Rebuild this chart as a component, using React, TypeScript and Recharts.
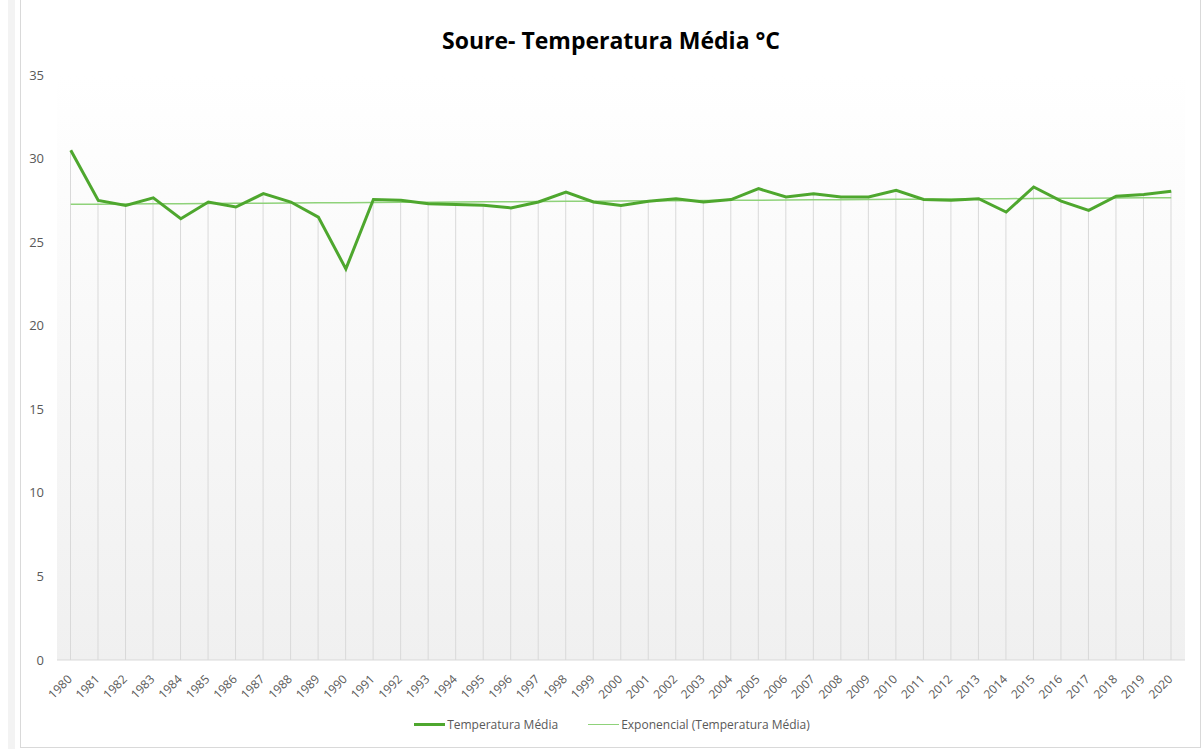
import React from "react";
import { ComposedChart, Line, Bar, XAxis, YAxis, Legend } from "recharts";

const years = [
  "1980", "1981", "1982", "1983", "1984", "1985", "1986", "1987", "1988", "1989",
  "1990", "1991", "1992", "1993", "1994", "1995", "1996", "1997", "1998", "1999",
  "2000", "2001", "2002", "2003", "2004", "2005", "2006", "2007", "2008", "2009",
  "2010", "2011", "2012", "2013", "2014", "2015", "2016", "2017", "2018", "2019",
  "2020",
];

const temperatura = [
  30.5, 27.5, 27.2, 27.65, 26.4, 27.4, 27.1, 27.9, 27.4, 26.5,
  23.4, 27.55, 27.5, 27.3, 27.25, 27.2, 27.05, 27.4, 28.0, 27.4,
  27.2, 27.45, 27.6, 27.4, 27.55, 28.2, 27.7, 27.9, 27.7, 27.7,
  28.1, 27.55, 27.5, 27.6, 26.8, 28.3, 27.45, 26.9, 27.75, 27.85,
  28.05,
];

// exponential trend line as drawn in the picture
const exponencial = [
  27.26, 27.27, 27.28, 27.29, 27.3, 27.31, 27.32, 27.33, 27.34, 27.35,
  27.36, 27.37, 27.38, 27.39, 27.4, 27.41, 27.42, 27.43, 27.44, 27.45,
  27.46, 27.47, 27.48, 27.49, 27.5, 27.51, 27.52, 27.53, 27.54, 27.55,
  27.56, 27.57, 27.58, 27.59, 27.6, 27.61, 27.62, 27.63, 27.64, 27.65,
  27.66,
];

const yTicks = [0, 5, 10, 15, 20, 25, 30, 35];

const data = years.map((year, i) => ({
  year,
  temperatura: temperatura[i],
  exponencial: exponencial[i],
}));

const FONT = "'Open Sans', 'Liberation Sans', sans-serif";
const MAIN = "#4ea72e";
const TREND = "#8fd27a";
const GREY = "#595959";

const YearTick = ({ x, y, payload }: any) => (
  <g transform={`translate(${x + 2}, ${y + 12})`}>
    <text transform="rotate(-45)" textAnchor="end" fontSize={12} fill={GREY} fontFamily={FONT}>
      {payload.value}
    </text>
  </g>
);

const LegendContent = () => (
  <div
    style={{
      display: "flex",
      justifyContent: "center",
      alignItems: "center",
      gap: 30,
      fontFamily: FONT,
      fontSize: 12,
      color: GREY,
      paddingLeft: 22,
    }}
  >
    <span style={{ display: "flex", alignItems: "center" }}>
      <span style={{ width: 31, height: 3, background: MAIN, display: "inline-block", marginRight: 2 }} />
      Temperatura Média
    </span>
    <span style={{ display: "flex", alignItems: "center" }}>
      <span style={{ width: 31, height: 1.5, background: TREND, display: "inline-block", marginRight: 2 }} />
      Exponencial (Temperatura Média)
    </span>
  </div>
);

export default function App() {
  return (
    <div
      style={{
        position: "absolute",
        left: 0,
        top: 0,
        width: 1202,
        height: 749,
        background: "#ffffff",
        overflow: "hidden",
      }}
    >
      <div style={{ position: "absolute", left: 8, top: 0, width: 7, height: 749, background: "#f3f3f3" }} />
      <div
        style={{
          position: "absolute",
          left: 20,
          top: 0,
          width: 1179,
          height: 747,
          borderLeft: "1px solid #d9d9d9",
          borderRight: "1px solid #d9d9d9",
          borderBottom: "1px solid #d9d9d9",
        }}
      />
      <div
        style={{
          position: "absolute",
          left: 57,
          top: 75,
          width: 1128,
          height: 585,
          background: "linear-gradient(#ffffff, #f0f0f0)",
        }}
      />
      <div
        style={{
          position: "absolute",
          left: 0,
          top: 24,
          width: 1222,
          textAlign: "center",
          fontFamily: FONT,
          fontWeight: 700,
          fontSize: 23,
          color: "#000000",
        }}
      >
        Soure- Temperatura Média °C
      </div>
      <ComposedChart
        width={1202}
        height={749}
        data={data}
        margin={{ top: 75, right: 17, bottom: 49, left: 0 }}
        style={{ position: "absolute", left: 0, top: 0 }}
      >
        <XAxis
          dataKey="year"
          interval={0}
          height={40}
          tick={<YearTick />}
          tickLine={false}
          axisLine={{ stroke: "#d9d9d9" }}
        />
        <YAxis
          domain={[0, 35]}
          ticks={yTicks}
          width={57}
          tickLine={false}
          axisLine={false}
          tickMargin={7}
          tick={{ fontSize: 13, fill: GREY, fontFamily: FONT }}
        />
        <Legend
          layout="horizontal"
          verticalAlign="middle"
          align="center"
          content={<LegendContent />}
          wrapperStyle={{ position: "absolute", top: 716, left: 0, width: 1202 }}
        />
        {/* drop lines from each point to the axis */}
        <Bar dataKey="temperatura" barSize={1} fill="#d9d9d9" legendType="none" isAnimationActive={false} />
        <Line
          type="linear"
          dataKey="exponencial"
          name="Exponencial (Temperatura Média)"
          stroke={TREND}
          strokeWidth={1.5}
          dot={false}
          isAnimationActive={false}
        />
        <Line
          type="linear"
          dataKey="temperatura"
          name="Temperatura Média"
          stroke={MAIN}
          strokeWidth={3}
          dot={false}
          isAnimationActive={false}
        />
      </ComposedChart>
    </div>
  );
}
